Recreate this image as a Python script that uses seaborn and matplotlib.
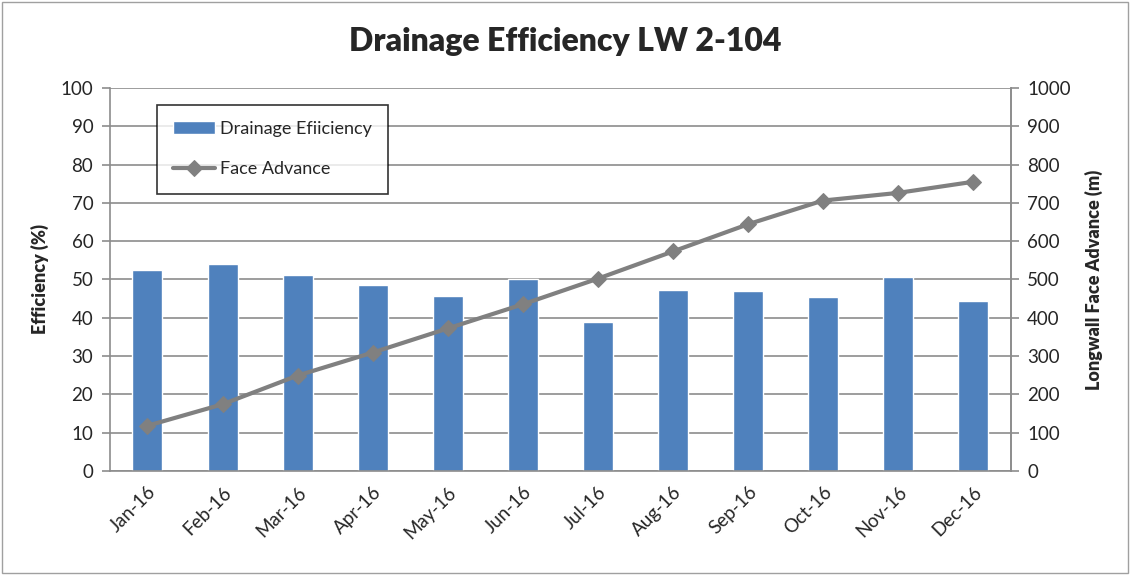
import matplotlib
matplotlib.use("Agg")
import matplotlib.pyplot as plt
import seaborn as sns
import pandas as pd

# ------------------------------
# Data
# ------------------------------
months = ["Jan-16", "Feb-16", "Mar-16", "Apr-16", "May-16", "Jun-16",
          "Jul-16", "Aug-16", "Sep-16", "Oct-16", "Nov-16", "Dec-16"]
efficiency = [52.5, 54.0, 51.2, 48.6, 45.7, 50.0, 38.9, 47.2, 46.9, 45.3, 50.7, 44.4]
face_advance = [118, 174, 249, 309, 372, 435, 502, 573, 644, 706, 726, 755]

df = pd.DataFrame({"month": months, "eff": efficiency, "adv": face_advance})

sns.set_style("white")
plt.rcParams["font.family"] = ["Lato", "DejaVu Sans"]

bar_color = "#4F81BD"
line_color = "#808080"
grid_color = "#8C8C8C"

fig = plt.figure(figsize=(11.3, 5.75), dpi=100)
ax = fig.add_axes([0.0973, 0.181, 0.797, 0.666])

sns.barplot(data=df, x="month", y="eff", color=bar_color, width=0.4,
            saturation=1, ax=ax, label="Drainage Efiiciency", zorder=2)
ax.set_ylim(0, 100)
ax.set_yticks(range(0, 101, 10))
ax.set_xlim(-0.5, len(months) - 0.5)
ax.yaxis.grid(True, color=grid_color, linewidth=1.2, zorder=0)
ax.set_axisbelow(True)
ax.set_xlabel("")
ax.set_ylabel("Efficiency (%)", fontsize=13, fontweight="heavy", labelpad=8)

# Excel-style category ticks between bars
ax.set_xticks(range(len(months)))
ax.set_xticklabels(months, rotation=45, ha="right", rotation_mode="anchor", fontsize=13.5)
ax.set_xticks([i - 0.5 for i in range(len(months) + 1)], minor=True)
ax.tick_params(axis="x", which="major", length=0, pad=9)
ax.tick_params(axis="x", which="minor", length=6, color=grid_color, width=1.2)
ax.tick_params(axis="y", length=6, color=grid_color, width=1.2, labelsize=13.5, pad=6)

ax.spines["top"].set_visible(False)
for side in ["left", "bottom", "right"]:
    ax.spines[side].set_color(grid_color)
    ax.spines[side].set_linewidth(1.2)

ax2 = ax.twinx()
sns.lineplot(x=range(len(months)), y=face_advance, ax=ax2, color=line_color,
             linewidth=3, marker="D", markersize=8, markeredgecolor=line_color,
             label="Face Advance", legend=False, zorder=3)
ax2.set_ylim(0, 1000)
ax2.set_yticks(range(0, 1001, 100))
ax2.set_ylabel("Longwall Face Advance (m)", fontsize=13, fontweight="heavy", labelpad=10)
ax2.tick_params(axis="y", length=6, color=grid_color, width=1.2, labelsize=13.5, pad=6)
for side in ["top", "left", "bottom"]:
    ax2.spines[side].set_visible(False)
ax2.spines["right"].set_color(grid_color)
ax2.spines["right"].set_linewidth(1.2)

# combined legend
h1, l1 = ax.get_legend_handles_labels()
h2, l2 = ax2.get_legend_handles_labels()
if ax.get_legend() is not None:
    ax.get_legend().remove()
leg = ax2.legend(h1 + h2, l1 + l2, loc="upper left", bbox_to_anchor=(0.052, 0.956),
                 borderaxespad=0, fontsize=13, frameon=True, fancybox=False,
                 edgecolor="black", borderpad=0.9, labelspacing=1.35,
                 handlelength=2.3, handletextpad=0.3)
leg.get_frame().set_linewidth(1.2)

fig.text(0.5, 0.928, "Drainage Efficiency LW 2-104", fontsize=23, fontweight="heavy",
         ha="center", va="center")

# outer chart border
fig.patches.append(plt.Rectangle((0.002, 0.003), 0.996, 0.994, transform=fig.transFigure,
                                 fill=False, edgecolor="#A0A0A0", linewidth=1))

fig.savefig("out.png", dpi=100)
